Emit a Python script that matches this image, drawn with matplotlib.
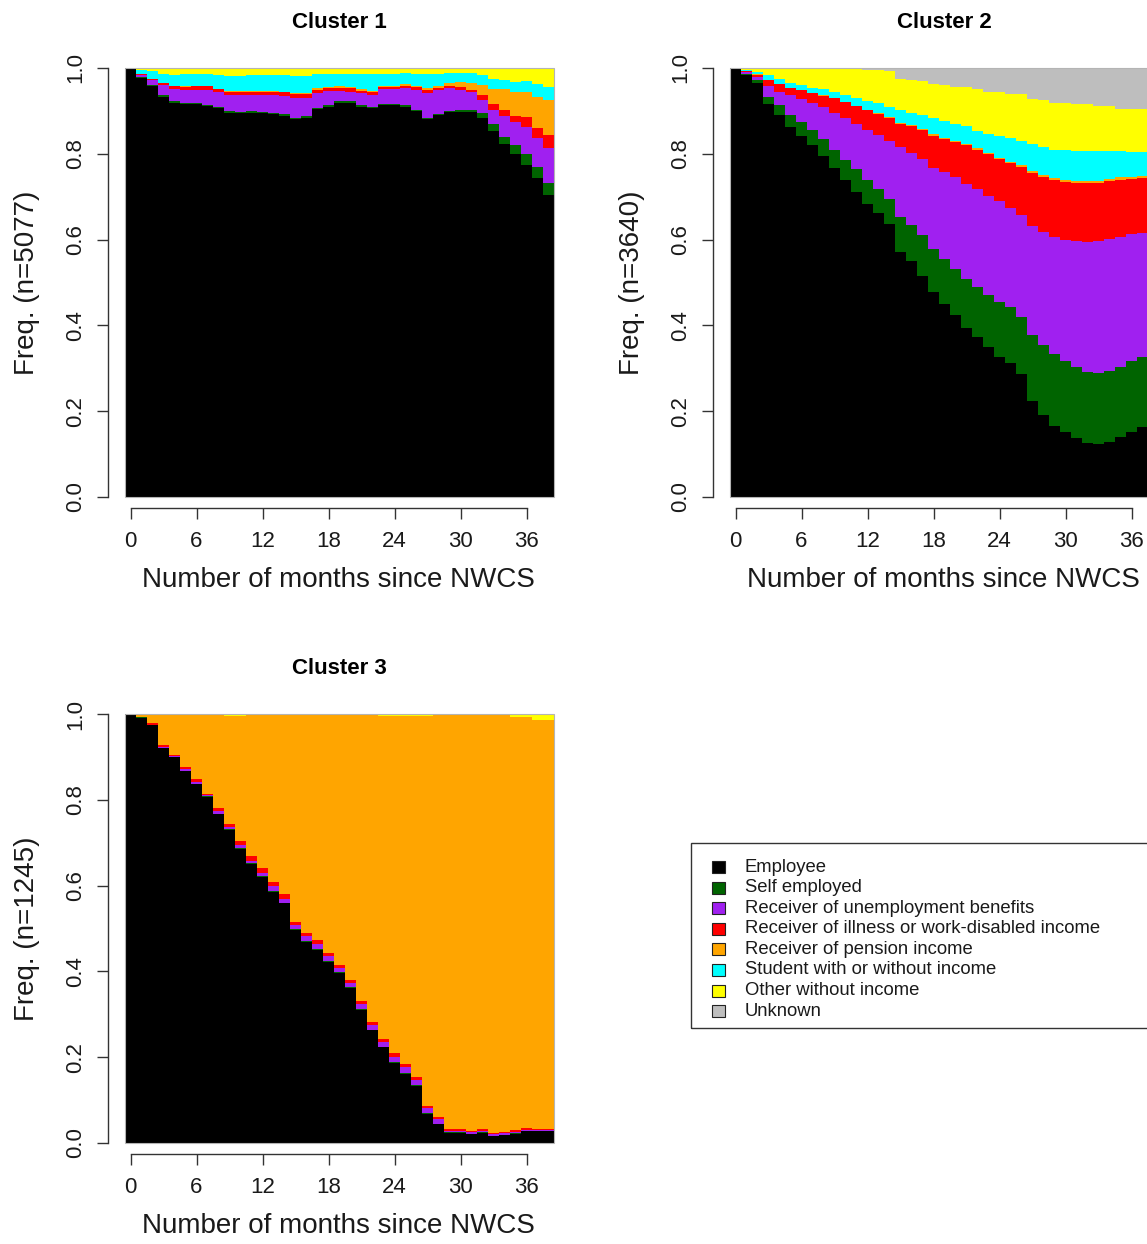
import numpy as np
import matplotlib
matplotlib.use("Agg")
import matplotlib.pyplot as plt
from matplotlib.patches import Rectangle

plt.rcParams['font.family'] = ['Liberation Sans', 'DejaVu Sans']

# ---------------------------------------------------------------------------
# State distribution (% of sequences in each state) by month since NWCS
# ---------------------------------------------------------------------------
months = list(range(39))

states = ["Employee", "Self employed", "Receiver of unemployment benefits",
          "Receiver of illness or work-disabled income",
          "Receiver of pension income", "Student with or without income",
          "Other without income", "Unknown"]
state_colors = ["#000000", "#006400", "#A020F0", "#FF0000",
                "#FFA500", "#00FFFF", "#FFFF00", "#BEBEBE"]

# Cluster 1 (n=5077)
c1_employee = [100.0, 97.7, 95.9, 93.3, 91.8, 91.6, 91.6, 91.2, 90.6, 89.6,
               89.4, 89.6, 89.4, 89.3, 88.9, 88.1, 88.4, 90.4, 91.0, 91.9,
               91.9, 91.0, 90.6, 91.4, 91.4, 91.0, 90.0, 88.1, 89.0, 89.7,
               89.8, 89.7, 88.3, 85.3, 82.2, 79.9, 77.4, 74.4, 70.4]
c1_self = [0.0, 0.3, 0.2, 0.3, 0.4, 0.3, 0.2, 0.2, 0.2, 0.3,
           0.4, 0.3, 0.3, 0.3, 0.3, 0.3, 0.3, 0.3, 0.3, 0.3,
           0.3, 0.3, 0.2, 0.3, 0.3, 0.3, 0.3, 0.3, 0.3, 0.3,
           0.4, 0.4, 1.2, 1.6, 1.6, 2.2, 2.5, 2.6, 2.7]
c1_unemp = [0.0, 0.3, 1.0, 2.5, 2.8, 2.9, 3.1, 3.5, 3.6, 3.9,
            4.0, 3.9, 4.0, 4.1, 4.2, 4.6, 4.4, 3.5, 3.4, 2.4,
            2.3, 2.9, 3.0, 3.3, 3.3, 4.0, 4.6, 5.8, 5.6, 5.3,
            4.7, 4.3, 3.1, 3.3, 4.9, 5.4, 6.4, 6.6, 8.3]
c1_illness = [0.0, 0.2, 0.4, 0.3, 0.7, 0.8, 0.8, 0.8, 0.7, 0.6,
              0.6, 0.6, 0.7, 0.8, 0.9, 0.9, 0.8, 0.7, 0.6, 0.8,
              0.8, 0.5, 0.6, 0.6, 0.6, 0.6, 0.6, 0.7, 0.5, 0.6,
              0.6, 0.4, 1.0, 1.3, 1.6, 1.4, 2.2, 2.5, 3.0]
c1_pension = [0.0, 0.0, 0.0, 0.1, 0.1, 0.1, 0.1, 0.1, 0.1, 0.2,
              0.2, 0.2, 0.2, 0.2, 0.2, 0.3, 0.3, 0.4, 0.3, 0.3,
              0.2, 0.3, 0.3, 0.3, 0.3, 0.3, 0.3, 0.4, 0.5, 0.6,
              1.2, 1.8, 2.5, 3.7, 4.7, 5.6, 6.0, 7.2, 8.2]
c1_student = [0.0, 1.0, 1.8, 2.1, 2.6, 2.8, 2.7, 2.7, 3.1, 3.6,
              3.5, 3.7, 3.7, 3.6, 3.8, 4.0, 4.0, 3.3, 3.1, 3.0,
              3.2, 3.6, 3.8, 2.8, 2.8, 2.6, 2.9, 3.3, 2.8, 2.4,
              2.2, 2.3, 2.2, 2.3, 2.1, 2.2, 2.4, 2.9, 3.0]
c1_other = [0.0, 0.5, 0.7, 1.4, 1.6, 1.5, 1.5, 1.5, 1.7, 1.8,
            1.9, 1.7, 1.7, 1.7, 1.7, 1.8, 1.8, 1.4, 1.3, 1.3,
            1.3, 1.4, 1.5, 1.3, 1.3, 1.2, 1.3, 1.4, 1.3, 1.1,
            1.1, 1.1, 1.7, 2.5, 2.9, 3.3, 3.1, 3.6, 4.2]
c1_unknown = [0.0] * 37 + [0.2, 0.2]

# Cluster 2 (n=3640)
c2_employee = [100.0, 98.4, 96.6, 91.7, 89.0, 86.2, 84.1, 82.0, 79.5, 76.7,
               73.8, 71.0, 68.2, 66.1, 63.6, 57.2, 54.9, 51.4, 47.7, 45.0,
               42.4, 39.3, 37.2, 35.0, 32.7, 31.3, 28.7, 22.4, 19.1, 16.6,
               15.1, 13.7, 12.5, 12.4, 12.9, 14.1, 15.1, 16.4, 17.0]
c2_self = [0.0, 0.1, 0.5, 1.5, 2.3, 2.9, 3.3, 3.5, 3.9, 4.3,
           4.7, 5.4, 5.6, 5.8, 5.9, 8.1, 8.5, 9.7, 10.2, 10.4,
           10.7, 11.4, 11.8, 12.0, 12.7, 13.0, 13.3, 15.3, 16.3, 16.7,
           16.5, 16.6, 16.7, 16.6, 16.4, 16.3, 16.5, 16.3, 16.5]
c2_unemp = [0.0, 0.6, 0.8, 2.5, 3.2, 4.5, 5.4, 6.3, 7.4, 8.5,
            9.9, 10.6, 11.7, 12.5, 13.6, 16.2, 16.8, 17.7, 18.8, 20.3,
            21.5, 22.3, 22.7, 23.2, 23.5, 23.0, 23.7, 25.4, 26.4, 27.3,
            28.4, 29.4, 30.2, 30.7, 30.8, 30.1, 29.8, 28.8, 28.3]
c2_illness = [0.0, 0.2, 0.5, 1.4, 1.7, 1.7, 2.0, 2.3, 2.7, 3.5,
              3.6, 4.1, 4.6, 4.9, 5.3, 5.5, 6.2, 6.7, 7.5, 7.7,
              8.2, 9.1, 9.3, 9.8, 9.9, 10.6, 11.3, 12.5, 12.9, 13.3,
              13.4, 13.6, 13.9, 13.6, 13.6, 13.5, 12.7, 12.8, 12.7]
c2_pension = [0.0, 0.0, 0.1, 0.1, 0.1, 0.1, 0.1, 0.1, 0.1, 0.1,
              0.1, 0.1, 0.1, 0.1, 0.1, 0.2, 0.2, 0.2, 0.3, 0.3,
              0.3, 0.3, 0.3, 0.3, 0.3, 0.3, 0.3, 0.4, 0.4, 0.4,
              0.4, 0.4, 0.4, 0.4, 0.4, 0.5, 0.5, 0.5, 0.5]
c2_student = [0.0, 0.2, 0.6, 1.1, 1.2, 1.1, 1.2, 1.2, 1.4, 1.3,
              1.6, 1.8, 2.1, 2.4, 2.4, 3.0, 3.0, 3.3, 3.9, 3.9,
              3.9, 4.0, 4.0, 4.4, 5.0, 5.4, 5.6, 6.2, 6.4, 6.7,
              7.0, 7.0, 7.0, 7.0, 6.5, 6.1, 5.9, 5.6, 5.3]
c2_other = [0.0, 0.5, 0.9, 1.7, 2.5, 3.5, 3.8, 4.5, 4.8, 5.4,
            6.0, 6.7, 7.2, 7.7, 8.4, 7.2, 7.6, 7.9, 7.8, 8.4,
            8.6, 9.2, 9.9, 9.7, 10.3, 10.4, 11.1, 10.6, 11.0, 10.9,
            11.1, 10.8, 10.8, 10.4, 10.5, 9.9, 10.0, 10.0, 10.0]
c2_unknown = [0.0, 0.0, 0.0, 0.0, 0.0, 0.0, 0.1, 0.1, 0.2, 0.2,
              0.3, 0.3, 0.5, 0.5, 0.7, 2.6, 2.8, 3.1, 3.8, 4.0,
              4.4, 4.4, 4.8, 5.6, 5.6, 6.0, 6.0, 7.2, 7.5, 8.1,
              8.1, 8.5, 8.5, 8.9, 8.9, 9.5, 9.5, 9.6, 9.7]

# Cluster 3 (n=1245)
c3_employee = [100.0, 99.0, 97.4, 92.0, 89.9, 86.7, 83.6, 80.7, 76.7, 73.0,
               68.5, 65.0, 62.1, 58.6, 55.9, 49.7, 46.9, 45.1, 42.3, 39.6,
               36.1, 31.0, 26.3, 22.3, 18.7, 16.2, 13.3, 6.8, 4.4, 2.4,
               2.4, 2.1, 2.4, 1.6, 1.8, 2.2, 2.7, 2.7, 2.7]
c3_self = [0.0, 0.3, 0.1, 0.1, 0.1, 0.1, 0.1, 0.1, 0.1, 0.1,
           0.2, 0.2, 0.1, 0.2, 0.1, 0.2, 0.2, 0.1, 0.1, 0.2,
           0.2, 0.2, 0.1, 0.1, 0.2, 0.2, 0.2, 0.2, 0.1, 0.1,
           0.1, 0.1, 0.1, 0.1, 0.1, 0.1, 0.1, 0.1, 0.1]
c3_unemp = [0.0, 0.0, 0.0, 0.3, 0.2, 0.3, 0.4, 0.3, 0.6, 0.6,
            0.8, 0.6, 0.8, 1.0, 0.8, 0.8, 1.2, 1.2, 1.2, 1.0,
            1.1, 1.2, 1.0, 1.1, 1.2, 1.2, 1.2, 1.1, 1.0, 0.3,
            0.3, 0.3, 0.4, 0.4, 0.4, 0.3, 0.3, 0.3, 0.3]
c3_illness = [0.0, 0.1, 0.4, 0.3, 0.3, 0.6, 0.7, 0.3, 0.7, 0.6,
              0.8, 1.1, 1.0, 1.0, 1.2, 0.7, 0.6, 0.9, 0.8, 0.8,
              0.6, 0.6, 0.8, 0.7, 0.9, 0.7, 0.8, 0.6, 0.6, 0.5,
              0.4, 0.3, 0.3, 0.3, 0.3, 0.4, 0.3, 0.2, 0.2]
c3_pension = [0.0, 0.5, 2.0, 7.3, 9.2, 12.0, 14.9, 18.6, 21.7, 25.3,
              29.3, 33.1, 36.0, 39.2, 41.9, 48.5, 51.0, 52.6, 55.5, 58.3,
              62.0, 67.0, 71.8, 75.4, 78.6, 81.3, 84.1, 90.9, 93.8, 96.6,
              96.8, 97.2, 96.8, 97.6, 97.4, 96.4, 95.8, 95.4, 95.2]
c3_student = [0.0] * 39
c3_other = [0.0, 0.1, 0.1, 0.0, 0.3, 0.3, 0.3, 0.0, 0.2, 0.4,
            0.4, 0.0, 0.0, 0.0, 0.1, 0.1, 0.1, 0.1, 0.1, 0.1,
            0.0, 0.0, 0.0, 0.4, 0.4, 0.4, 0.4, 0.4, 0.1, 0.1,
            0.0, 0.0, 0.0, 0.0, 0.0, 0.6, 0.8, 1.2, 1.3]
c3_unknown = [0.0] * 37 + [0.1, 0.2]

clusters = [
    ("Cluster 1", "Freq. (n=5077)",
     [c1_employee, c1_self, c1_unemp, c1_illness, c1_pension, c1_student, c1_other, c1_unknown]),
    ("Cluster 2", "Freq. (n=3640)",
     [c2_employee, c2_self, c2_unemp, c2_illness, c2_pension, c2_student, c2_other, c2_unknown]),
    ("Cluster 3", "Freq. (n=1245)",
     [c3_employee, c3_self, c3_unemp, c3_illness, c3_pension, c3_student, c3_other, c3_unknown]),
]

x_ticks = [0, 6, 12, 18, 24, 30, 36]
y_ticks = [0.0, 0.2, 0.4, 0.6, 0.8, 1.0]
y_tick_labels = ["0.0", "0.2", "0.4", "0.6", "0.8", "1.0"]
x_title = "Number of months since NWCS"

# ---------------------------------------------------------------------------
# Layout (pixel geometry of a 1147 x 1244 canvas)
# ---------------------------------------------------------------------------
W, H = 1147, 1244
DPI = 100
fig = plt.figure(figsize=(W / DPI, H / DPI), dpi=DPI)
fig.patch.set_facecolor("white")


def fx(px):
    return px / W


def fy(py):
    return 1 - py / H


PLOT = 429  # side of each plotting region in pixels
panel_origin = [(125, 68), (730, 68), (125, 714)]
PT = 72 / DPI  # points per pixel

for (title, ylab, series), (left, top) in zip(clusters, panel_origin):
    ax = fig.add_axes([fx(left), fy(top + PLOT), PLOT / W, PLOT / H])
    bottom = np.zeros(len(months))
    for vals, col in zip(series, state_colors):
        share = np.asarray(vals, dtype=float) / 100.0
        ax.bar(months, share, bottom=bottom, width=1.0, color=col,
               linewidth=0, antialiased=False)
        bottom += share
    ax.set_xlim(-0.5, 38.5)
    ax.set_ylim(0, 1)
    ax.add_patch(Rectangle((0, 0), 1, 1, transform=ax.transAxes, fill=False,
                           edgecolor="#b4b4b4", linewidth=0.8, zorder=5,
                           clip_on=False))

    for side in ("top", "right"):
        ax.spines[side].set_visible(False)
    ax.spines["left"].set_position(("outward", 17 * PT))
    ax.spines["bottom"].set_position(("outward", 11 * PT))
    ax.spines["left"].set_bounds(0, 1)
    ax.spines["bottom"].set_bounds(0, 36)
    for side in ("left", "bottom"):
        ax.spines[side].set_color("#333333")
        ax.spines[side].set_linewidth(1.0)

    ax.set_xticks(x_ticks)
    ax.set_xticklabels([str(t) for t in x_ticks])
    ax.set_yticks(y_ticks)
    ax.set_yticklabels(y_tick_labels, rotation=90, va="center")
    ax.tick_params(axis="both", direction="out", length=11 * PT, width=1.0,
                   color="#333333", labelsize=16, labelcolor="#1a1a1a")
    ax.tick_params(axis="x", pad=12 * PT)
    ax.tick_params(axis="y", pad=11 * PT)

    cx = left + PLOT / 2
    fig.text(fx(cx), fy(top - 46), title, ha="center", va="center",
             fontsize=16, fontweight="bold",
             family=["Liberation Sans Narrow", "Liberation Sans", "DejaVu Sans"])
    fig.text(fx(cx - 1), fy(top + PLOT + 83), x_title, ha="center", va="center",
             fontsize=20, color="#1a1a1a")
    fig.text(fx(left - 98), fy(top + PLOT / 2), ylab, ha="center", va="center",
             rotation=90, fontsize=20, color="#1a1a1a")

# ---------------------------------------------------------------------------
# Legend box
# ---------------------------------------------------------------------------
box_left, box_top, box_right, box_bottom = 691, 843, 1165, 1028
fig.add_artist(Rectangle((fx(box_left), fy(box_bottom)),
                         fx(box_right) - fx(box_left), fy(box_top) - fy(box_bottom),
                         transform=fig.transFigure, fill=False,
                         edgecolor="#333333", linewidth=1.0))
row_y0, row_step = 867, 20.6
for k, (name, col) in enumerate(zip(states, state_colors)):
    yc = row_y0 + k * row_step
    fig.add_artist(Rectangle((fx(712), fy(yc + 6)), 13 / W, 12 / H,
                             transform=fig.transFigure, facecolor=col,
                             edgecolor="#222222", linewidth=0.8))
    fig.text(fx(745), fy(yc), name, ha="left", va="center", fontsize=13.3,
             color="#1a1a1a")

fig.savefig("out.png", dpi=DPI)
